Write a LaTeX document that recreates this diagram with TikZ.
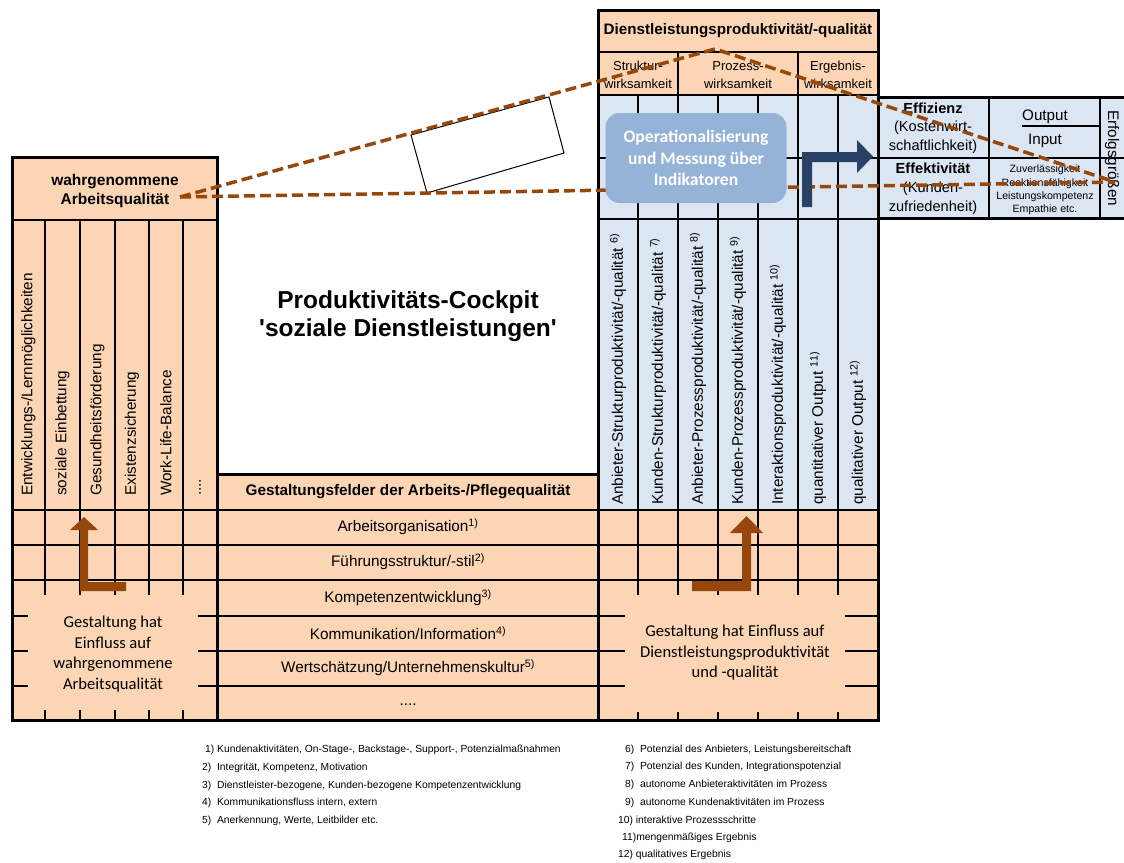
\documentclass[tikz,border=0pt]{standalone}
\usepackage{fontspec}
\setmainfont{Liberation Sans}
\newfontfamily\calfont{Carlito}
\definecolor{peach}{RGB}{252,213,180}
\definecolor{lblue}{RGB}{220,230,242}
\definecolor{boxblue}{RGB}{149,179,215}
\definecolor{brownarr}{RGB}{150,72,12}
\definecolor{navy}{RGB}{40,65,100}
\tikzset{
  innerln/.style={line width=2pt},
  outerln/.style={line width=3pt},
  tx/.style={inner sep=0pt, align=center, font=\fontsize{15.3}{18}\selectfont},
  vl/.style={inner sep=0pt, rotate=90, anchor=west, font=\fontsize{15.3}{16}\selectfont},
  fn/.style={inner sep=0pt, anchor=west, font=\fontsize{10.3}{11}\selectfont},
  calbox/.style={inner sep=0pt, align=center, font=\calfont\fontsize{16.6}{20.5}\selectfont},
  dashwedge/.style={draw=brownarr, line width=3.5pt, dash pattern=on 11pt off 5pt},
}
\begin{document}
\begin{tikzpicture}[x=1pt,y=-1pt]
\useasboundingbox (0,0) rectangle (1124,862);
% fills
\fill[peach] (12,157) rectangle (217,720);
\fill[peach] (217,474) rectangle (598,720);
\fill[peach] (598,10) rectangle (878,95);
\fill[lblue] (598,95) rectangle (878,510);
\fill[peach] (598,510) rectangle (878,720);
\fill[lblue] (878,97) rectangle (1130,218);
% left grid
\draw[innerln] (12,220) -- (217,220);
\foreach \y in {510,545,580,616,651,686} \draw[innerln] (12,\y) -- (878,\y);
\foreach \x in {45,80,115,149,183} \draw[innerln] (\x,220) -- (\x,720);
% right grid
\draw[innerln] (598,52) -- (878,52);
\draw[innerln] (598,95) -- (878,95);
\draw[innerln] (598,158) -- (878,158);
\draw[innerln] (598,219) -- (878,219);
\foreach \x in {678,798} \draw[innerln] (\x,52) -- (\x,95);
\foreach \x in {638,678,718,758,798,838} \draw[innerln] (\x,95) -- (\x,720);
% right table
\draw[innerln] (878,158) -- (1130,158);
\foreach \x in {989,1100} \draw[innerln] (\x,97) -- (\x,218);
\draw[line width=1.5pt] (1022,126) -- (1100,126);
% cover boxes
\fill[peach] (28,595) rectangle (198,710);
\fill[peach] (625,595) rectangle (845,712);
% outer borders
\draw[outerln] (12,157) rectangle (217,720);
\draw[outerln] (217,474) rectangle (598,720);
\draw[outerln] (598,10) rectangle (878,720);
\draw[outerln] (878,97) rectangle (1130,218);
% texts
\node[tx, font=\bfseries\fontsize{24.5}{28}\selectfont] (title) at (408,316) {Produktivitäts-Cockpit\\\textquotesingle soziale Dienstleistungen\textquotesingle};
\node[tx, font=\bfseries\fontsize{15.2}{16}\selectfont] (dlhead) at (738,31) {Dienstleistungsproduktivität/-qualität};
\node[tx, font=\fontsize{13}{18}\selectfont] (sw) at (638,75) {Struktur-\\wirksamkeit};
\node[tx, font=\fontsize{13}{18}\selectfont] (pw) at (738,75) {Prozess-\\wirksamkeit};
\node[tx, font=\fontsize{13}{18}\selectfont] (ew) at (838,75) {Ergebnis-\\wirksamkeit};
\node[tx, font=\bfseries\fontsize{15.5}{19}\selectfont] (wq) at (115,191) {wahrgenommene\\Arbeitsqualität};
\node[tx, font=\fontsize{14.6}{18.5}\selectfont] (eff) at (933,128) {\textbf{Effizienz}\\(Kostenwirt-\\schaftlichkeit)};
\node[tx, font=\fontsize{14.6}{19}\selectfont] (efk) at (933,189) {\textbf{Effektivität}\\(Kunden-\\zufriedenheit)};
\node[tx, font=\fontsize{15.2}{16}\selectfont] (outp) at (1045,117) {Output};
\node[tx, font=\fontsize{15.2}{16}\selectfont] (inp) at (1045,141) {Input};
\node[tx, font=\fontsize{10.6}{13.3}\selectfont] (qual) at (1045,190) {Zuverlässigkeit\\Reaktionsfähigkeit\\Leistungskompetenz\\Empathie etc.};
\node[inner sep=0pt, rotate=-90, anchor=west, font=\fontsize{15.3}{16}\selectfont] (erf) at (1112,110) {Erfolgsgrößen};
\node[tx, font=\bfseries\fontsize{15.3}{16}\selectfont] (gf) at (408,492) {Gestaltungsfelder der Arbeits-/Pflegequalität};
\node[tx] (r1) at (408,527) {Arbeitsorganisation\textsuperscript{1)}};
\node[tx] (r2) at (408,562) {Führungsstruktur/-stil\textsuperscript{2)}};
\node[tx] (r3) at (408,598) {Kompetenzentwicklung\textsuperscript{3)}};
\node[tx] (r4) at (408,633) {Kommunikation/Information\textsuperscript{4)}};
\node[tx] (r5) at (408,668) {Wertschätzung/Unternehmenskultur\textsuperscript{5)}};
\node[tx] (r6) at (408,705) {....};
% left vertical labels
\node[vl] (l1) at (28.5,496) {Entwicklungs-/Lernmöglichkeiten};
\node[vl] (l2) at (62.5,496) {soziale Einbettung};
\node[vl] (l3) at (97.5,496) {Gesundheitsförderung};
\node[vl] (l4) at (132,496) {Existenzsicherung};
\node[vl] (l5) at (166,496) {Work-Life-Balance};
\node[vl] (l6) at (200,496) {....};
% right vertical labels
\node[vl] (c1) at (618,505) {Anbieter-Strukturproduktivität/-qualität \textsuperscript{6)}};
\node[vl] (c2) at (658,505) {Kunden-Strukturproduktivität/-qualität \textsuperscript{7)}};
\node[vl] (c3) at (698,505) {Anbieter-Prozessproduktivität/-qualität \textsuperscript{8)}};
\node[vl] (c4) at (738,505) {Kunden-Prozessproduktivität/-qualität \textsuperscript{9)}};
\node[vl] (c5) at (778,505) {Interaktionsproduktivität/-qualität \textsuperscript{10)}};
\node[vl] (c6) at (818,505) {quantitativer Output \textsuperscript{11)}};
\node[vl] (c7) at (858,505) {qualitativer Output \textsuperscript{12)}};
% influence boxes text
\node[calbox] (gl) at (113,654) {Gestaltung hat\\Einfluss auf\\wahrgenommene\\Arbeitsqualität};
\node[calbox] (gr) at (735,653) {Gestaltung hat Einfluss auf\\Dienstleistungsproduktivität\\und -qualität};
% footnotes
\node[fn] (f1) at (205,750) {1) Kundenaktivitäten, On-Stage-, Backstage-, Support-, Potenzialmaßnahmen};
\node[fn] (f2) at (202,768) {2)\ \ Integrität, Kompetenz, Motivation};
\node[fn] (f3) at (202,786) {3)\ \ Dienstleister-bezogene, Kunden-bezogene Kompetenzentwicklung};
\node[fn] (f4) at (202,803) {4)\ \ Kommunikationsfluss intern, extern};
\node[fn] (f5) at (202,821) {5)\ \ Anerkennung, Werte, Leitbilder etc.};
\node[fn] (f6) at (625,750) {6)\ \ Potenzial des Anbieters, Leistungsbereitschaft};
\node[fn] (f7) at (625,767) {7)\ \ Potenzial des Kunden, Integrationspotenzial};
\node[fn] (f8) at (625,785) {8)\ \ autonome Anbieteraktivitäten im Prozess};
\node[fn] (f9) at (625,803) {9)\ \ autonome Kundenaktivitäten im Prozess};
\node[fn] (f10) at (618,821) {10) interaktive Prozessschritte};
\node[fn] (f11) at (622,838) {11)mengenmäßiges Ergebnis};
\node[fn] (f12) at (618,855) {12) qualitatives Ergebnis};
% zoom wedge
\draw[black, fill=white, line width=1pt] (411,135) -- (549,97) -- (564,153) -- (427,193) -- cycle;
\coordinate (wl) at (180,197);
\coordinate (wp) at (715,49);
\coordinate (wr) at (1115,182);
\draw[dashwedge] (wl) -- (wp) -- (wr);
\draw[dashwedge] (wl) -- (wr);
% operationalisation box
\node[fill=boxblue, rounded corners=14pt, minimum width=181pt, minimum height=90pt, inner sep=0pt, align=center, text=white, font=\calfont\bfseries\fontsize{17.6}{21.5}\selectfont] (op) at (696,158) {Operationalisierung\\und Messung über\\Indikatoren};
% arrows
\fill[brownarr] (126,591) -- (80,591) -- (80,530) -- (70,530) -- (84,517) -- (98,530) -- (88,530) -- (88,582) -- (126,582) -- cycle;
\fill[brownarr] (692,591) -- (751,591) -- (751,533) -- (763,533) -- (746.5,516) -- (730,533) -- (742,533) -- (742,581) -- (692,581) -- cycle;
\fill[navy] (802,207) -- (802,152) -- (857,152) -- (857,140) -- (873,156.5) -- (857,173) -- (857,162) -- (812,162) -- (812,207) -- cycle;
\end{tikzpicture}
\end{document}
